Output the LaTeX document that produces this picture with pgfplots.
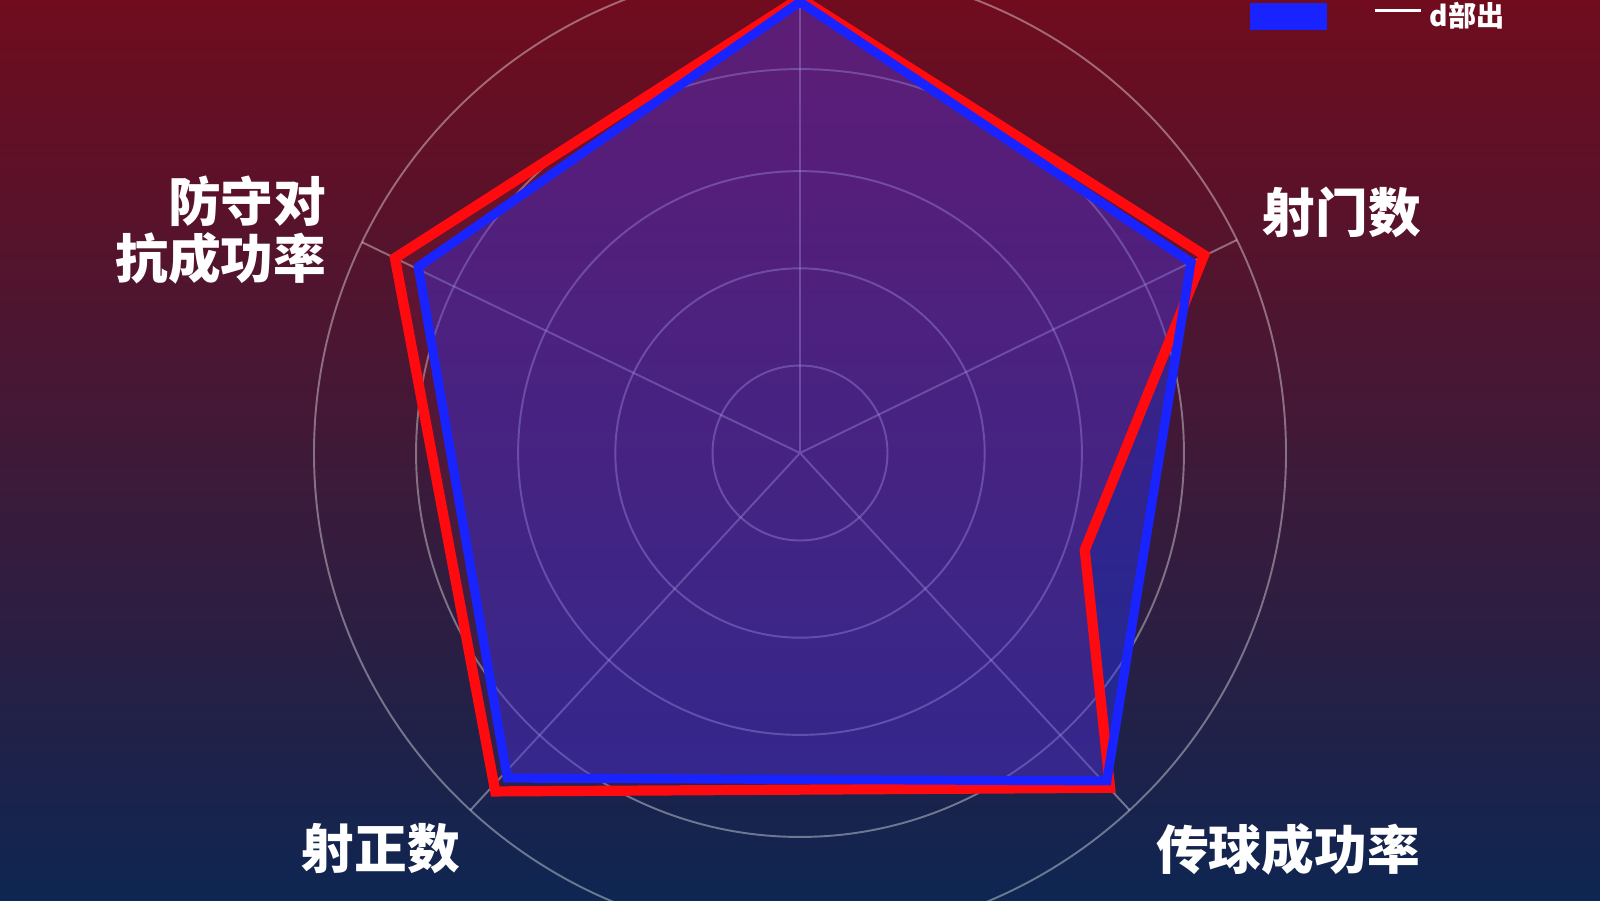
\documentclass[border=0pt]{standalone}
\usepackage{pgfplots}
\pgfplotsset{compat=1.18}
\usepgfplotslibrary{polar}
\usepackage{fontspec}
\newfontfamily\cjk{Noto Sans CJK SC}
\definecolor{bgtop}{RGB}{112,12,30}
\definecolor{bgmid}{RGB}{50,22,62}
\definecolor{bgbot}{RGB}{14,38,82}
\definecolor{redline}{RGB}{255,10,15}
\definecolor{blueline}{RGB}{25,35,255}
\definecolor{bluefill}{RGB}{40,50,240}
\definecolor{redfill}{RGB}{230,30,60}
\begin{document}
\begin{tikzpicture}
\useasboundingbox (0,0) rectangle (16,9);
\clip (0,0) rectangle (16,9);
\shade[top color=bgtop, middle color=bgmid, bottom color=bgbot] (0,0) rectangle (16,9);
\begin{polaraxis}[
  at={(8cm,4.47cm)}, anchor=center,
  width=9.72cm, scale only axis,
  ymin=0, ymax=100,
  xtick={26,90,154.3,227.3,312.7},
  ytick={18,38,58,79,100},
  xticklabels={}, yticklabels={},
  grid=major,
  major grid style={white, opacity=0.38, line width=0.55pt},
  axis line style={draw=none},
  tick style={draw=none},
  legend style={at={(0.962,0.972)}, anchor=north west, draw=none, fill=none,
    text=white, font=\cjk\bfseries\fontsize{8}{9}\selectfont, inner sep=0pt},
]
\addlegendimage{legend image code/.code={
  \fill[blueline] (0cm,-0.13cm) rectangle (0.76cm,0.13cm);
  \draw[white,line width=0.8pt] (1.25cm,0.06cm)--(1.71cm,0.06cm);}}
\addlegendentry{d部出}
% blue fill
\addplot[draw=none, fill=bluefill, fill opacity=0.45, forget plot] coordinates {
  (90,92.8) (26,89.5) (313.1,92.4) (228,90.0) (154,87.4) (90,92.8)} -- cycle;
% red series
\addplot[draw=redline, line width=2.9pt, line join=miter, fill=redfill, fill opacity=0.1, forget plot] coordinates {
  (90,93.6) (26.1,92.6) (341.2,61.9) (312.8,93.9) (228,93.7) (154.3,92.5) (90,93.6)} -- cycle;
% blue line
\addplot[draw=blueline, line width=2.6pt, line join=miter, forget plot] coordinates {
  (90,92.8) (26,89.5) (313.1,92.4) (228,90.0) (154,87.4) (90,92.8)} -- cycle;
\end{polaraxis}
\begin{scope}[every node/.style={text=white, font=\cjk\bfseries\fontsize{15}{16}\selectfont, inner sep=0pt}]
\node at (13.42,6.88) {射门数};
\node[anchor=east, align=right] at (3.27,6.70) {防守对\\抗成功率};
\node at (3.81,0.51) {射正数};
\node at (12.88,0.51) {传球成功率};
\end{scope}
\end{tikzpicture}
\end{document}
